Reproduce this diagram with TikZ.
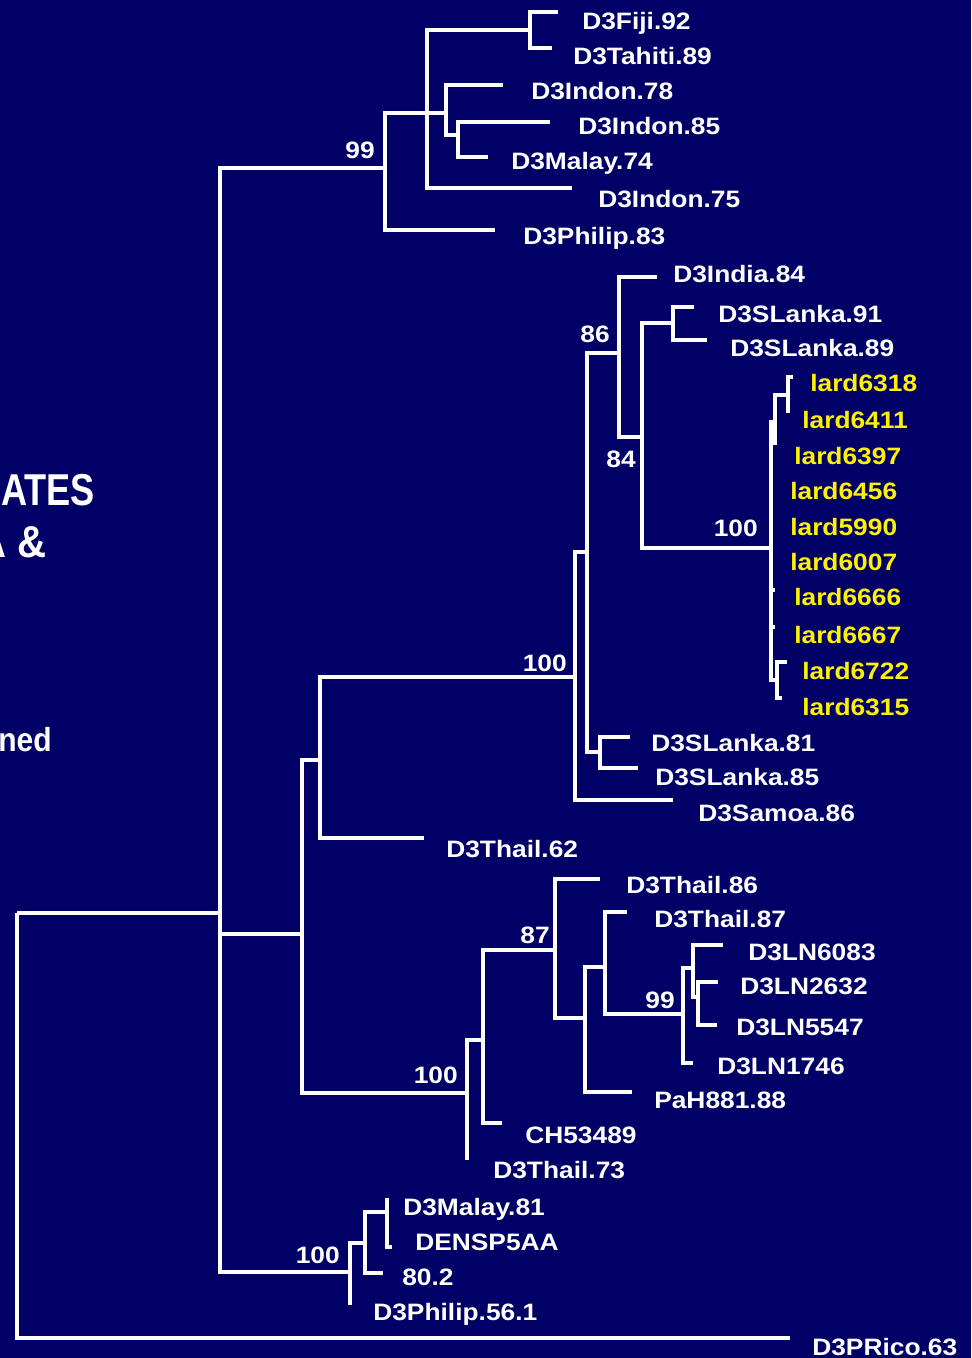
\documentclass[tikz,border=0pt]{standalone}
\usepackage{fontspec}
\newfontfamily\lblfont{Liberation Sans}[FakeStretch=1.11]
\newfontfamily\bigfont{Liberation Sans}[FakeStretch=0.9]
\newfontfamily\bignarrow{Liberation Sans}[FakeStretch=0.81]
\definecolor{bgnavy}{RGB}{0,0,102}
\begin{document}
\begin{tikzpicture}[x=0.75pt,y=-0.75pt,
  br/.style={draw=white,line width=2.4pt},
  lbl/.style={anchor=base west,inner sep=0pt,text=white,font=\lblfont\bfseries\fontsize{17.8pt}{20pt}\selectfont},
  ylbl/.style={lbl,text=yellow},
  sup/.style={lbl,anchor=base east},
  big/.style={anchor=base east,inner sep=0pt,text=white,font=\bigfont\bfseries\fontsize{33.5pt}{36pt}\selectfont}]
\useasboundingbox (0,0) rectangle (971,1358);
\clip (0,0) rectangle (971,1358);
\fill[bgnavy] (0,0) rectangle (971,1358);
% tree coordinates
\coordinate (r) at (17,913);
\coordinate (n220) at (220,913);
\coordinate (tPRico) at (790,1338);
\coordinate (n385) at (385,168);
\coordinate (n427) at (427,113);
\coordinate (n530) at (530,30);
\coordinate (tFiji) at (558,12);
\coordinate (tTahiti) at (552,48);
\coordinate (n446) at (446,113);
\coordinate (tIndon78) at (503,85);
\coordinate (n458) at (458,135);
\coordinate (tIndon85) at (550,122);
\coordinate (tMalay74) at (488,157);
\coordinate (tIndon75) at (572,188);
\coordinate (tPhil83) at (495,230);
\coordinate (n302) at (302,934);
\coordinate (n320) at (320,760);
\coordinate (tThail62) at (424,838);
\coordinate (n575) at (575,677);
\coordinate (tSamoa) at (673,800);
\coordinate (n587) at (587,552);
\coordinate (n600) at (600,752);
\coordinate (tSL81) at (630,737);
\coordinate (tSL85) at (638,768);
\coordinate (n619) at (619,353);
\coordinate (tIndia) at (657,277);
\coordinate (n642) at (642,437);
\coordinate (n673) at (673,323);
\coordinate (tSL91) at (694,307);
\coordinate (tSL89) at (707,340);
\coordinate (n771) at (771,548);
\coordinate (n775) at (775,422);
\coordinate (n788) at (788,395);
\coordinate (t6318) at (793,377);
\coordinate (t6411) at (788,413);
\coordinate (t6397) at (775,445);
\coordinate (t6666) at (775,590);
\coordinate (t6667) at (775,627);
\coordinate (n777) at (777,680);
\coordinate (t6722) at (787,662);
\coordinate (t6315) at (782,698);
\coordinate (n467) at (467,1093);
\coordinate (tThail73) at (467,1160);
\coordinate (n483) at (483,1040);
\coordinate (tCH) at (502,1123);
\coordinate (n555) at (555,950);
\coordinate (tThail86) at (600,879);
\coordinate (n585) at (585,1018);
\coordinate (tPaH) at (632,1092);
\coordinate (n605) at (605,967);
\coordinate (tThail87) at (627,912);
\coordinate (n683) at (683,1014);
\coordinate (tLN1746) at (693,1063);
\coordinate (n693) at (693,968);
\coordinate (tLN6083) at (723,945);
\coordinate (n698) at (698,997);
\coordinate (tLN2632) at (718,982);
\coordinate (tLN5547) at (717,1025);
\coordinate (n350) at (350,1272);
\coordinate (tPhil561) at (350,1305);
\coordinate (n365) at (365,1243);
\coordinate (t802) at (383,1273);
\coordinate (n387) at (387,1212);
\coordinate (tMalay81) at (387,1198);
\coordinate (tDENSP) at (392,1247);
% branches
\foreach \p/\c in {r/n220,r/tPRico,
  n220/n385,n220/n302,n220/n350,
  n385/n427,n385/tPhil83,
  n427/n530,n427/n446,n427/tIndon75,
  n530/tFiji,n530/tTahiti,
  n446/tIndon78,n446/n458,n458/tIndon85,n458/tMalay74,
  n302/n320,n302/n467,
  n320/n575,n320/tThail62,
  n575/n587,n575/tSamoa,
  n587/n619,n587/n600,n600/tSL81,n600/tSL85,
  n619/tIndia,n619/n642,
  n642/n673,n642/n771,n673/tSL91,n673/tSL89,
  n771/n775,n771/t6666,n771/t6667,n771/n777,
  n775/n788,n775/t6397,n788/t6318,n788/t6411,
  n777/t6722,n777/t6315,
  n467/n483,n467/tThail73,
  n483/n555,n483/tCH,
  n555/tThail86,n555/n585,
  n585/n605,n585/tPaH,
  n605/tThail87,n605/n683,
  n683/n693,n683/tLN1746,
  n693/tLN6083,n693/n698,
  n698/tLN2632,n698/tLN5547,
  n350/n365,n350/tPhil561,
  n365/n387,n365/t802,
  n387/tMalay81,n387/tDENSP}
  \draw[br] (\p) |- (\c);
% leaf labels
\node[lbl] (lFiji) at (582,30) {D3Fiji.92};
\node[lbl] (lTahiti) at (573,65) {D3Tahiti.89};
\node[lbl] (lIndon78) at (531,100) {D3Indon.78};
\node[lbl] (lIndon85) at (578,135) {D3Indon.85};
\node[lbl] (lMalay74) at (511,170) {D3Malay.74};
\node[lbl] (lIndon75) at (598,208) {D3Indon.75};
\node[lbl] (lPhil83) at (523,245) {D3Philip.83};
\node[lbl] (lIndia) at (673,283) {D3India.84};
\node[lbl] (lSL91) at (718,323) {D3SLanka.91};
\node[lbl] (lSL89) at (730,357) {D3SLanka.89};
\node[ylbl] (l6318) at (810,392) {lard6318};
\node[ylbl] (l6411) at (802,428) {lard6411};
\node[ylbl] (l6397) at (794,464) {lard6397};
\node[ylbl] (l6456) at (790,499) {lard6456};
\node[ylbl] (l5990) at (790,535) {lard5990};
\node[ylbl] (l6007) at (790,570) {lard6007};
\node[ylbl] (l6666) at (794,605) {lard6666};
\node[ylbl] (l6667) at (794,643) {lard6667};
\node[ylbl] (l6722) at (802,679) {lard6722};
\node[ylbl] (l6315) at (802,715) {lard6315};
\node[lbl] (lSL81) at (651,751) {D3SLanka.81};
\node[lbl] (lSL85) at (655,785) {D3SLanka.85};
\node[lbl] (lSamoa) at (698,821) {D3Samoa.86};
\node[lbl] (lThail62) at (446,857) {D3Thail.62};
\node[lbl] (lThail86) at (626,893) {D3Thail.86};
\node[lbl] (lThail87) at (654,927) {D3Thail.87};
\node[lbl] (lLN6083) at (748,960) {D3LN6083};
\node[lbl] (lLN2632) at (740,994) {D3LN2632};
\node[lbl] (lLN5547) at (736,1035) {D3LN5547};
\node[lbl] (lLN1746) at (717,1074) {D3LN1746};
\node[lbl] (lPaH) at (654,1108) {PaH881.88};
\node[lbl] (lCH) at (525,1143) {CH53489};
\node[lbl] (lThail73) at (493,1178) {D3Thail.73};
\node[lbl] (lMalay81) at (403,1215) {D3Malay.81};
\node[lbl] (lDENSP) at (415,1250) {DENSP5AA};
\node[lbl] (l802) at (402,1285) {80.2};
\node[lbl] (lPhil561) at (373,1320) {D3Philip.56.1};
\node[lbl] (lPRico) at (812,1355) {D3PRico.63};
% support values
\node[sup] (s1) at (375,159) {99};
\node[sup] (s2) at (610,343) {86};
\node[sup] (s3) at (636,467) {84};
\node[sup] (s4) at (758,536) {100};
\node[sup] (s5) at (567,671) {100};
\node[sup] (s6) at (550,943) {87};
\node[sup] (s7) at (675,1008) {99};
\node[sup] (s8) at (458,1083) {100};
\node[sup] (s9) at (340,1263) {100};
% partly hidden title text
\node[big,anchor=base west,font=\bignarrow\bfseries\fontsize{33.5pt}{36pt}\selectfont] (b1) at (1,505) {ATES};
\node[big] (b2) at (47,557) {A \&};
\node[big,font=\bigfont\bfseries\fontsize{25pt}{28pt}\selectfont] (b3) at (52,751) {ned};
\end{tikzpicture}
\end{document}
